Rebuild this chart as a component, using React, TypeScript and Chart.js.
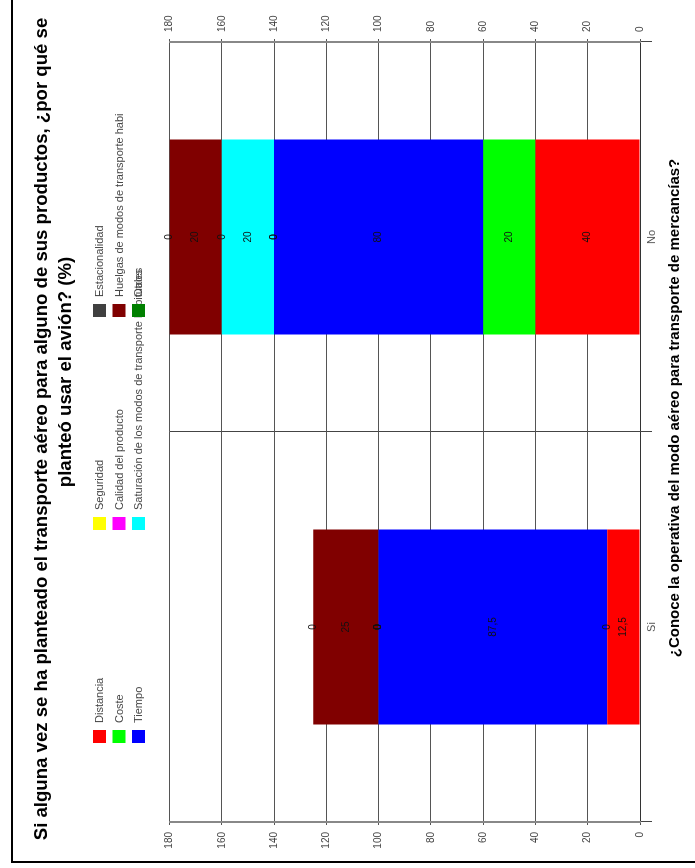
import React, { useEffect, useRef } from 'react';
import { Chart, registerables } from 'chart.js';

Chart.register(...registerables);

// Chart text
const titleLines = [
  'Si alguna vez se ha planteado el transporte aéreo para alguno de sus productos, ¿por qué se',
  'planteó usar el avión? (%)',
];
const axisTitle = '¿Conoce la operativa del modo aéreo para transporte de mercancías?';

// Categories (answers to the x-axis question)
const categories = ['Si', 'No'];

// Series values per category (%), in stacking order
const distancia = [12.5, 40];
const coste = [0, 20];
const tiempo = [87.5, 80];
const seguridad = [0, 0];
const calidad = [0, 0];
const saturacion = [0, 20];
const estacionalidad = [0, 0];
const huelgas = [25, 20];
const otros = [0, 0];

const seriesNames = [
  'Distancia',
  'Coste',
  'Tiempo',
  'Seguridad',
  'Calidad del producto',
  'Saturación de los modos de transporte habituales',
  'Estacionalidad',
  'Huelgas de modos de transporte habi',
  'Otros',
];
const seriesValues = [distancia, coste, tiempo, seguridad, calidad, saturacion, estacionalidad, huelgas, otros];
const seriesColors = ['#FF0000', '#00FF00', '#0000FF', '#FFFF00', '#FF00FF', '#00FFFF', '#404040', '#800000', '#008000'];

// Value axis range
const valueMin = 0;
const valueMax = 180;
const valueStep = 20;

const FONT = '"Liberation Sans", Arial, Helvetica, sans-serif';
const W = 868;
const H = 695;

const fmt = (v: number) => String(v).replace('.', ',');

// Value labels at the middle of every stacked segment (zero segments included)
const valueLabels = {
  id: 'valueLabels',
  afterDatasetsDraw(chart: any) {
    const ctx = chart.ctx;
    ctx.save();
    ctx.font = `10px ${FONT}`;
    ctx.fillStyle = '#111';
    ctx.textAlign = 'center';
    ctx.textBaseline = 'middle';
    chart.data.datasets.forEach((ds: any, di: number) => {
      const meta = chart.getDatasetMeta(di);
      meta.data.forEach((el: any, i: number) => {
        const p = el.getProps(['x', 'y', 'base'], true);
        ctx.fillText(fmt(ds.data[i]), p.x, (p.y + p.base) / 2);
      });
    });
    ctx.restore();
  },
};

// Frame, title, legend grid and axis title
const decorations = {
  id: 'decorations',
  afterDraw(chart: any) {
    const ctx = chart.ctx;
    ctx.save();

    // outer frame
    ctx.strokeStyle = '#000';
    ctx.lineWidth = 2;
    ctx.beginPath();
    ctx.moveTo(6, H + 2);
    ctx.lineTo(6, 12);
    ctx.lineTo(W + 2, 12);
    ctx.stroke();

    // title
    ctx.fillStyle = '#000';
    ctx.font = `bold 18.6px ${FONT}`;
    ctx.textAlign = 'center';
    ctx.textBaseline = 'middle';
    ctx.fillText(titleLines[0], 439, 42);
    ctx.fillText(titleLines[1], 496, 66);

    // legend: three rows, filled column by column
    const colX = [125, 338, 551];
    const rowY = [93, 112.5, 132];
    const box = 13;
    ctx.font = `11px ${FONT}`;
    ctx.textAlign = 'left';
    seriesNames.forEach((name, i) => {
      const cx = colX[Math.floor(i / 3)];
      const ry = rowY[i % 3];
      ctx.fillStyle = seriesColors[i];
      ctx.fillRect(cx, ry, box, box);
      ctx.fillStyle = '#444';
      ctx.fillText(name, cx + 20, ry + box / 2 + 0.5);
    });

    // category axis title
    ctx.fillStyle = '#000';
    ctx.font = `bold 15px ${FONT}`;
    ctx.textAlign = 'center';
    ctx.fillText(axisTitle, 460, 675);

    ctx.restore();
  },
};

export default function App() {
  const canvasRef = useRef<HTMLCanvasElement | null>(null);

  useEffect(() => {
    if (!canvasRef.current) return;
    const chart = new Chart(canvasRef.current, {
      type: 'bar',
      data: {
        labels: categories,
        datasets: seriesNames.map((name, i) => ({
          label: name,
          data: seriesValues[i],
          backgroundColor: seriesColors[i],
          borderWidth: 0,
          barPercentage: 1,
          categoryPercentage: 0.5,
        })),
      },
      options: {
        responsive: false,
        animation: false,
        layout: { padding: { top: 169.5, left: 0, right: 0, bottom: 0 } },
        plugins: {
          legend: { display: false },
          title: { display: false },
          tooltip: { enabled: false },
        },
        scales: {
          x: {
            type: 'category',
            stacked: true,
            offset: true,
            grid: { offset: true, color: '#444', tickLength: 12, lineWidth: 1 },
            border: { color: '#333', width: 1 },
            ticks: { color: '#555', font: { family: FONT, size: 11 }, padding: -7 },
            afterFit: (s: any) => {
              s.height = 55;
            },
          },
          y: {
            type: 'linear',
            position: 'left',
            stacked: true,
            min: valueMin,
            max: valueMax,
            ticks: { stepSize: valueStep, color: '#444', font: { family: FONT, size: 10 }, padding: 7 },
            grid: { color: '#555', tickLength: 3 },
            border: { color: '#888', width: 2 },
            afterFit: (s: any) => {
              s.width = 46;
            },
          },
          y2: {
            type: 'linear',
            position: 'right',
            min: valueMin,
            max: valueMax,
            ticks: { stepSize: valueStep, color: '#444', font: { family: FONT, size: 10 }, padding: 7 },
            grid: { drawOnChartArea: false, color: '#555', tickLength: 3 },
            border: { color: '#888', width: 2 },
            afterFit: (s: any) => {
              s.width = 42;
            },
          },
        },
      },
      plugins: [valueLabels, decorations],
    });
    return () => chart.destroy();
  }, []);

  return (
    <div
      style={{
        position: 'fixed',
        left: 0,
        top: 0,
        width: H,
        height: W,
        overflow: 'hidden',
        background: '#fff',
      }}
    >
      <div
        style={{
          position: 'absolute',
          left: 0,
          top: 0,
          width: W,
          height: H,
          transformOrigin: '0 0',
          transform: `translateY(${W}px) rotate(-90deg)`,
        }}
      >
        <canvas ref={canvasRef} width={W} height={H} style={{ width: W, height: H, display: 'block' }} />
      </div>
    </div>
  );
}
